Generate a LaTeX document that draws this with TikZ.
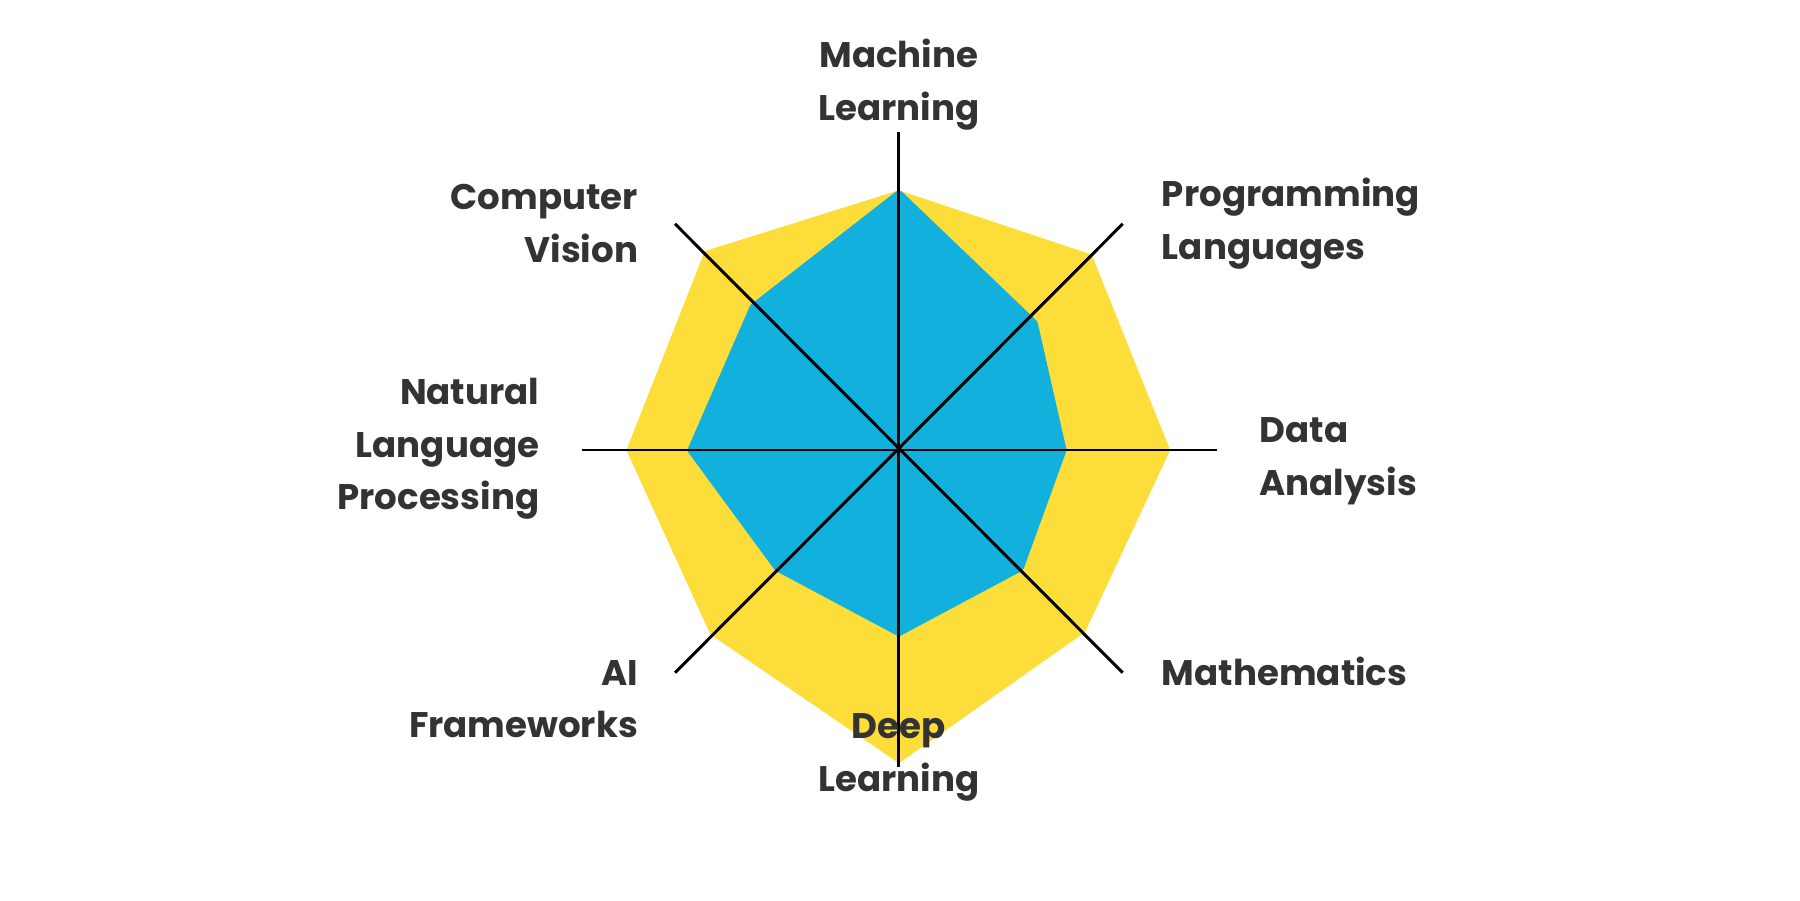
\documentclass[tikz,border=0pt]{standalone}
\usepackage{fontspec}
\setmainfont{Poppins}
\definecolor{ylw}{HTML}{FCDD3A}
\definecolor{blu}{HTML}{12B0DD}
\definecolor{txt}{HTML}{333333}
\begin{document}
\begin{tikzpicture}[x=1pt,y=-1pt,
  lbl/.style={text=txt,font=\fontsize{31}{46}\selectfont\bfseries,inner sep=0pt,align=center},
  axis/.style={line width=2.6pt,black}]
\useasboundingbox (0,0) rectangle (1568,784);
\coordinate (c) at (783,392);
\filldraw[ylw,line width=8pt,line join=round] (783,170)--(948,225)--(1015,392)--(942,548)--(783,660)--(622,550)--(550,392)--(617,222)--cycle;
\filldraw[blu,line width=8pt,line join=round] (783,170)--(900,282)--(925,392)--(888,494)--(783,550)--(678,494)--(603,392)--(657,268)--cycle;
\coordinate (n) at (783,115); \coordinate (s) at (783,668);
\coordinate (w) at (507,392); \coordinate (e) at (1060,392);
\coordinate (nw) at (588,195); \coordinate (se) at (978,586);
\coordinate (ne) at (978,195); \coordinate (sw) at (588,586);
\draw[axis] (n)--(s); \draw[axis] (w)--(e); \draw[axis] (nw)--(se); \draw[axis] (ne)--(sw);
\node[lbl] (ml) at (783,74) {Machine\\Learning};
\node[lbl,anchor=east,align=right] (cv) at (556,195) {Computer\\Vision};
\node[lbl,anchor=west,align=left] (pl) at (1012,195) {Programming\\Languages};
\node[lbl,anchor=east,align=right] (nlp) at (470,391) {Natural\\Language\\Processing};
\node[lbl,anchor=west,align=left] (da) at (1097,402) {Data\\Analysis};
\node[lbl,anchor=west,align=left] (ma) at (1012,585) {Mathematics};
\node[lbl,anchor=east,align=right] (ai) at (556,609) {AI\\Frameworks};
\node[lbl] (dl) at (783,660) {Deep\\Learning};
\end{tikzpicture}
\end{document}
